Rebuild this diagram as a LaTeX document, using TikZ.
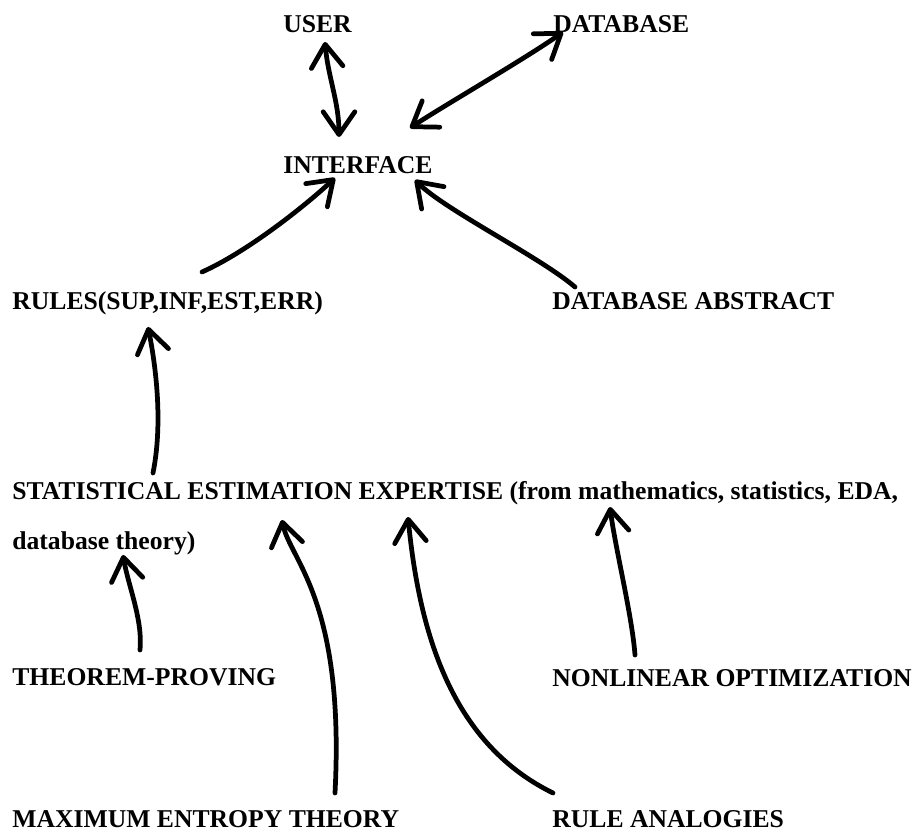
\documentclass[tikz,border=0pt]{standalone}
\usepackage{fontspec}
\setmainfont{Liberation Serif}
\usepackage{tikz}
\usetikzlibrary{arrows.meta}

\begin{document}
\begin{tikzpicture}[x=0.02cm,y=-0.02cm,>={Straight Barb[length=13pt,width=18pt,round]}]
\tikzstyle{lbl}=[anchor=base west,inner sep=0pt,font=\bfseries\fontsize{14.6}{17}\selectfont]
\tikzstyle{hand}=[line width=2.7pt,line cap=round]
\useasboundingbox (0,0) rectangle (920,837);

\node[lbl] (USER)   at (283,33)  {USER};
\node[lbl] (DBASE)  at (553,33)  {DATABASE};
\node[lbl] (INTF)   at (283,174) {INTERFACE};
\node[lbl] (RULES)  at (12,310)  {RULES(SUP,INF,EST,ERR)};
\node[lbl] (ABSTR)  at (552,310) {DATABASE ABSTRACT};
\node[lbl] (STAT)   at (12,500)  {STATISTICAL ESTIMATION EXPERTISE (from mathematics, statistics, EDA,};
\node[lbl] (STAT2)  at (12,550)  {database theory)};
\node[lbl] (THM)    at (12,685)  {THEOREM-PROVING};
\node[lbl] (NLO)    at (552,686) {NONLINEAR OPTIMIZATION};
\node[lbl] (MAXENT) at (12,827)  {MAXIMUM ENTROPY THEORY};
\node[lbl] (ANALOG) at (552,827) {RULE ANALOGIES};

% top part
\draw[hand,<->] ([shift={(42,9)}]USER.base west) .. controls +(3,35) and +(0,-35) .. ([shift={(56,-37)}]INTF.base west);
\draw[hand,<->] ([shift={(127,-46)}]INTF.base west) .. controls +(30,-20) and +(-35,25) .. ([shift={(10,-1)}]DBASE.base west);
\draw[hand,->] ([shift={(190,-38)}]RULES.base west) .. controls +(45,-20) and +(-30,28) .. ([shift={(52,4)}]INTF.base west);
\draw[hand,->] ([shift={(23,-23)}]ABSTR.base west) .. controls +(-35,-30) and +(30,30) .. ([shift={(132,6)}]INTF.base west);

% expertise
\draw[hand,->] ([shift={(141,-27)}]STAT.base west) .. controls +(10,-50) and +(8,40) .. ([shift={(136,17)}]RULES.base west);
\draw[hand,->] ([shift={(128,-35)}]THM.base west) .. controls +(3,-30) and +(5,30) .. ([shift={(111,5)}]STAT2.base west);
\draw[hand,->] ([shift={(323,-34)}]MAXENT.base west) .. controls +(10,-193) and +(8,40) .. ([shift={(270,20)}]STAT.base west);
\draw[hand,->] ([shift={(1,-34)}]ANALOG.base west) .. controls +(-98,-48) and +(12,123) .. ([shift={(396,17)}]STAT.base west);
\draw[hand,->] ([shift={(83,-31)}]NLO.base west) .. controls +(-3,-40) and +(5,40) .. ([shift={(598,7)}]STAT.base west);
\end{tikzpicture}
\end{document}
